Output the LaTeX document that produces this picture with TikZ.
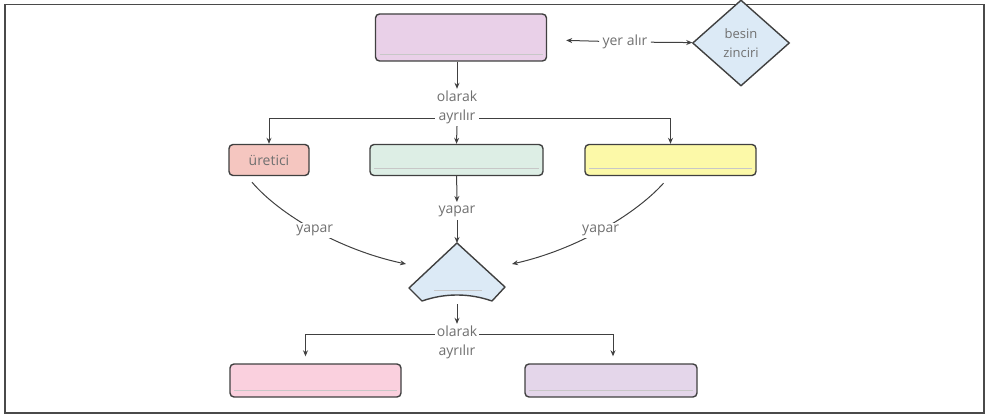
\documentclass[tikz,border=0pt]{standalone}
\usepackage{fontspec}
\setmainfont{Open Sans}
\usetikzlibrary{shapes.geometric,arrows.meta}
\definecolor{boxline}{HTML}{404040}
\definecolor{framegray}{HTML}{4A4A4A}
\definecolor{txtgray}{HTML}{707070}
\definecolor{topfill}{HTML}{E9D0E8}
\definecolor{bluefill}{HTML}{DCEAF6}
\definecolor{prodfill}{HTML}{F5C6C0}
\definecolor{greenfill}{HTML}{DDEEE5}
\definecolor{yellowfill}{HTML}{FCF9A8}
\definecolor{pinkfill}{HTML}{FAD0DE}
\definecolor{lilacfill}{HTML}{E4D6EA}
\tikzstyle{every node}=[font=\fontsize{14}{19}\selectfont, text=txtgray]
\tikzstyle{blank}=[draw=boxline, line width=1.4pt, rounded corners=4pt, minimum height=32pt, inner sep=0pt]
\tikzstyle{wline}=[path picture={\draw[black!22, line width=0.6pt]
	([xshift=4pt,yshift=7pt]path picture bounding box.south west) --
	([xshift=-4pt,yshift=7pt]path picture bounding box.south east);}]
\tikzstyle{conn}=[draw=boxline, line width=1pt, -{Stealth[length=6pt,width=5pt]}]
\tikzstyle{lbl}=[fill=white, align=center, inner sep=2pt]

\begin{document}
\begin{tikzpicture}[x=1pt, y=-1pt]
	\useasboundingbox (0,0) rectangle (986,417);
	\draw[framegray, line width=1.8pt] (5,4.5) rectangle (984,413);
	% top row
	\node[blank, wline, fill=topfill, minimum width=171pt, minimum height=47pt] (top) at (461,37.5) {};
	\node[diamond, draw=boxline, line width=1.4pt, fill=bluefill, minimum width=97pt, minimum height=86pt,
		inner sep=0pt, align=center, font=\fontsize{13}{19}\selectfont] (chain) at (741,43) {besin\\zinciri};
	\node (yer) at (625,42) {yer alır};
	\draw[conn, shorten >=19pt] (yer) -- (top);
	\draw[conn] (yer) -- (chain);
	\node[lbl] (split1) at (457,107.5) {olarak\\ayrılır};
	\draw[conn] (top.south -| split1) -- (split1);
	% second row
	\node[blank, fill=prodfill, minimum width=80pt, minimum height=31pt] (prod) at (269,160) {üretici};
	\node[blank, wline, fill=greenfill, minimum width=173pt, minimum height=31pt] (cons) at (456.5,160) {};
	\node[blank, wline, fill=yellowfill, minimum width=171pt, minimum height=31pt] (decomp) at (670.5,160) {};
	\coordinate (j1) at (457,119);
	\draw[conn] (split1.west |- j1) -| (prod.north);
	\draw[conn] (split1.east |- j1) -| (decomp.north);
	\draw[conn] (split1.south) -- (cons.north);
	\node (yap2) at (457,211) {yapar};
	\draw[conn] (cons) -- (yap2);
	% middle shape
	\coordinate (pt) at (457,243);
	\coordinate (pb) at (457,304);
	\coordinate (pl) at (406,264);
	\coordinate (pr) at (512,264);
	\draw[boxline, line width=1.4pt, fill=bluefill, line join=round]
		(pt) -- (505,287) -- (492,301) .. controls (469,293) and (445,293) .. (422,301) -- (409,288) -- cycle;
	\draw[black!22, line width=0.6pt] (434,290) -- (482,290);
	\draw[conn] (yap2) -- (pt);
	\draw[conn] ([xshift=-17pt,yshift=-6pt]prod.south) .. controls (280,215) and (340,250) .. (pl)
		node[lbl, pos=0.5] (yap1) {yapar};
	\draw[conn] ([xshift=-7pt,yshift=-7pt]decomp.south) .. controls (635,215) and (575,250) .. (pr)
		node[lbl, pos=0.5] (yap3) {yapar};
	% bottom row
	\node[lbl] (split2) at (457,342.5) {olarak\\ayrılır};
	\draw[conn] (pb) -- (split2);
	\node[blank, wline, fill=pinkfill, minimum width=171pt, minimum height=33pt] (bleft) at (315.5,380.5) {};
	\node[blank, wline, fill=lilacfill, minimum width=172pt, minimum height=33pt] (bright) at (611,380.5) {};
	\coordinate (j2) at (457,334);
	\draw[conn, shorten >=7pt] (split2.west |- j2) -| ([xshift=-10pt]bleft.north);
	\draw[conn, shorten >=7pt] (split2.east |- j2) -| ([xshift=2pt]bright.north);
\end{tikzpicture}
\end{document}
